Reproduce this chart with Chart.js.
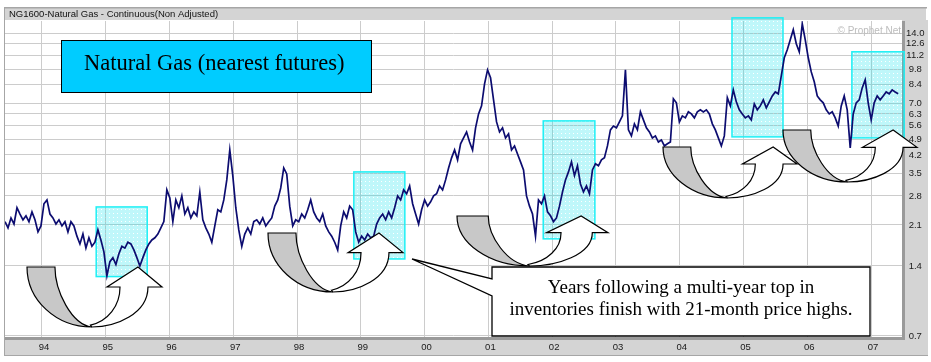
<!DOCTYPE html>
<html>
<head>
<meta charset="utf-8">
<title>Natural Gas (nearest futures)</title>
<script src="https://cdn.jsdelivr.net/npm/chart.js@4.4.1/dist/chart.umd.min.js"></script>
<style>
  html, body { margin: 0; padding: 0; background: #fff; }
  canvas { display: block; }
</style>
</head>
<body>
<canvas id="gas" width="931" height="362"></canvas>
<script>
const firstDate = 1993.42;
const stepYears = 0.047;
const prices = [
  2.17, 2.04, 2.25, 2.12, 2.49, 2.34, 2.21, 2.30, 2.17, 2.39, 2.21, 1.96, 2.08,
  2.59, 2.69, 2.34, 2.25, 2.12, 2.21, 2.08, 2.17, 1.96, 2.17, 2.08, 1.88, 1.74,
  1.92, 1.67, 1.85, 1.70, 1.77, 2.00, 1.81, 1.61, 1.27, 1.46, 1.52, 1.42, 1.58,
  1.70, 1.67, 1.77, 1.74, 1.64, 1.52, 1.40, 1.52, 1.64, 1.74, 1.81, 1.85, 1.92,
  2.04, 2.17, 2.97, 2.74, 2.17, 2.69, 2.49, 2.80, 2.34, 2.49, 2.25, 2.39, 2.30,
  2.91, 2.21, 2.04, 1.92, 1.77, 2.08, 2.44, 2.39, 2.69, 3.28, 4.41, 3.42, 2.49,
  2.00, 1.70, 1.92, 2.04, 1.92, 2.17, 2.21, 2.12, 2.25, 2.08, 2.17, 2.25, 2.53,
  2.69, 3.03, 3.69, 3.48, 2.53, 2.08, 2.21, 2.17, 2.34, 2.25, 2.44, 2.69, 2.39,
  2.25, 2.17, 2.34, 2.08, 1.96, 1.88, 1.77, 1.64, 2.08, 2.39, 2.25, 2.53, 2.44,
  1.96, 1.77, 1.88, 1.81, 1.92, 1.85, 1.88, 2.12, 2.25, 2.34, 2.21, 2.39, 2.25,
  2.49, 2.80, 2.69, 2.97, 2.86, 3.09, 2.59, 2.34, 2.12, 2.44, 2.69, 2.53, 2.64,
  2.80, 2.86, 3.09, 2.97, 3.28, 3.69, 4.08, 4.41, 4.00, 4.69, 4.97, 5.27, 4.77,
  4.41, 5.49, 6.30, 6.82, 8.48, 9.74, 9.01, 7.24, 5.82, 5.27, 5.49, 4.97, 5.17,
  4.41, 4.59, 4.24, 3.92, 3.62, 2.80, 2.53, 2.34, 1.88, 2.69, 2.59, 2.80, 2.39,
  2.30, 2.17, 2.25, 2.53, 2.91, 3.28, 3.55, 3.92, 3.42, 3.77, 3.15, 2.91, 3.09,
  2.86, 3.62, 3.85, 3.77, 4.00, 4.08, 4.59, 5.38, 5.59, 5.49, 5.82, 6.18, 9.74,
  5.38, 5.07, 5.71, 5.38, 6.43, 5.94, 5.49, 5.27, 4.97, 5.07, 4.77, 4.87, 4.59,
  4.69, 4.77, 7.32, 7.03, 5.82, 6.18, 6.06, 6.43, 6.30, 6.06, 6.43, 6.56, 6.43,
  6.56, 6.30, 5.71, 5.38, 4.97, 4.59, 5.07, 7.39, 6.82, 7.99, 7.10, 6.56, 6.30,
  6.06, 6.18, 5.94, 6.96, 6.56, 6.82, 7.24, 6.69, 7.10, 7.53, 7.83, 7.69, 9.19,
  10.98, 11.88, 13.12, 14.49, 12.61, 11.65, 15.37, 13.12, 10.98, 9.55, 8.66, 7.53, 7.24,
  7.03, 6.56, 6.30, 6.43, 6.06, 5.59, 6.82, 7.53, 6.56, 4.50, 6.30, 7.03, 7.24,
  8.15, 8.83, 7.03, 5.94, 7.03, 7.53, 7.24, 7.53, 7.83, 7.69, 7.99, 7.83, 7.69,
];

const yearTicks = [1994, 1995, 1996, 1997, 1998, 1999, 2000, 2001, 2002, 2003, 2004, 2005, 2006, 2007];
const yearLabels = ["94", "95", "96", "97", "98", "99", "00", "01", "02", "03", "04", "05", "06", "07"];
const priceTicks = [0.7, 1.4, 2.1, 2.8, 3.5, 4.2, 4.9, 5.6, 6.3, 7.0, 8.4, 9.8, 11.2, 12.6, 14.0];

// shaded spans: the year after a multi-year inventory top
const boxStart = [1994.85, 1998.89, 2001.86, 2004.82, 2006.70];
const boxEnd = [1995.65, 1999.69, 2002.67, 2005.62, 2007.52];
const boxLow = [1.26, 1.50, 1.83, 5.02, 4.97];
const boxHigh = [2.51, 3.55, 5.88, 16.3, 11.65];

const points = prices.map((p, i) => ({ x: firstDate + i * stepYears, y: p }));

// curved arrows under each box: left, top, width, height (px)
const arrows = [
  [27, 267, 135, 60],
  [268, 233, 135, 59],
  [457, 216, 151, 50],
  [663, 147, 134, 51],
  [783, 130, 134, 52],
];

Chart.defaults.font.family = "'Liberation Sans', Arial, sans-serif";

function dotFill(ctx) {
  const tile = document.createElement("canvas");
  tile.width = 4;
  tile.height = 4;
  const t = tile.getContext("2d");
  t.fillStyle = "rgba(0, 225, 235, 0.25)";
  t.fillRect(0, 0, 4, 4);
  t.clearRect(1, 1, 1, 1);
  return ctx.createPattern(tile, "repeat");
}

function drawArrow(c, L, T, W, H) {
  const p = (u, v) => [L + u * W, T + v * H];
  c.strokeStyle = "#000";
  c.lineWidth = 1.2;

  // grey back band
  c.beginPath();
  c.moveTo(...p(0, 0));
  c.lineTo(...p(0.207, 0));
  c.bezierCurveTo(...p(0.207, 0.4), ...p(0.33, 0.96), ...p(0.48, 1));
  c.bezierCurveTo(...p(0.215, 1), ...p(0, 0.552), ...p(0, 0));
  c.closePath();
  c.fillStyle = "#c8c8c8";
  c.fill();
  c.stroke();

  // white front with the head
  c.beginPath();
  c.moveTo(...p(0.48, 1));
  c.bezierCurveTo(...p(0.66, 1), ...p(0.896, 0.78), ...p(0.896, 0.333));
  c.lineTo(...p(1, 0.333));
  c.lineTo(...p(0.822, 0));
  c.lineTo(...p(0.593, 0.333));
  c.lineTo(...p(0.689, 0.333));
  c.bezierCurveTo(...p(0.689, 0.65), ...p(0.6, 0.9), ...p(0.47, 0.97));
  c.closePath();
  c.fillStyle = "#fff";
  c.fill();
  c.stroke();
}

const frame = {
  id: "frame",
  beforeDraw(chart) {
    const c = chart.ctx;
    c.save();
    c.fillStyle = "#fff";
    c.fillRect(0, 0, chart.width, chart.height);
    c.fillStyle = "#d4d4d4";
    c.fillRect(5, 8, 921, 12);
    c.fillRect(902, 20, 26, 336);
    c.fillRect(5, 340, 923, 15);
    c.fillStyle = "#a6a6a6";
    c.fillRect(4, 7, 923, 1.5);
    c.fillRect(4, 7, 1, 349);
    c.fillRect(4, 355, 924, 1);
    c.fillStyle = "#9a9a9a";
    c.fillRect(902, 21, 3, 319);
    c.fillRect(5, 337, 900, 3);
    c.fillStyle = "#111";
    c.font = "9.5px 'Liberation Sans'";
    c.textBaseline = "middle";
    c.fillText("NG1600-Natural Gas - Continuous(Non Adjusted)", 9, 14.5);
    c.restore();
  },
  beforeDatasetsDraw(chart) {
    const c = chart.ctx;
    const { x, y } = chart.scales;
    c.save();
    c.fillStyle = "#bdbdbd";
    c.font = "10px 'Liberation Sans'";
    c.textAlign = "right";
    c.textBaseline = "middle";
    c.fillText("\u00a9 Prophet.Net", 901, 31);

    const pat = dotFill(c);
    for (let i = 0; i < boxStart.length; i++) {
      const l = x.getPixelForValue(boxStart[i]);
      const r = x.getPixelForValue(boxEnd[i]);
      const t = y.getPixelForValue(boxHigh[i]);
      const b = y.getPixelForValue(boxLow[i]);
      c.fillStyle = pat;
      c.fillRect(l, t, r - l, b - t);
      c.strokeStyle = "#1ef0f5";
      c.lineWidth = 1.5;
      c.strokeRect(l, t, r - l, b - t);
    }
    c.restore();
  },
  afterDraw(chart) {
    const c = chart.ctx;
    c.save();
    arrows.forEach((a) => drawArrow(c, a[0], a[1], a[2], a[3]));

    // title box
    c.fillStyle = "#00ccff";
    c.fillRect(61, 40, 310, 52);
    c.strokeStyle = "#000";
    c.lineWidth = 1;
    c.strokeRect(61.5, 40.5, 310, 52);
    c.fillStyle = "#000";
    c.font = "22.5px 'Liberation Serif'";
    c.textBaseline = "alphabetic";
    c.fillText("Natural Gas (nearest futures)", 84, 70);

    // callout
    c.beginPath();
    c.moveTo(492, 267);
    c.lineTo(870, 267);
    c.lineTo(870, 336);
    c.lineTo(492, 336);
    c.lineTo(492, 296);
    c.lineTo(412, 259);
    c.lineTo(492, 279);
    c.closePath();
    c.fillStyle = "#fff";
    c.fill();
    c.lineWidth = 1.3;
    c.stroke();
    c.fillStyle = "#000";
    c.font = "19px 'Liberation Serif'";
    c.textAlign = "center";
    c.fillText("Years following a multi-year top in", 681, 293);
    c.fillText("inventories finish with 21-month price highs.", 681, 315);
    c.restore();
  },
};

new Chart(document.getElementById("gas"), {
  type: "line",
  data: {
    datasets: [
      {
        data: points,
        borderColor: "#0c0c70",
        borderWidth: 1.7,
        pointRadius: 0,
        tension: 0,
        fill: false,
      },
    ],
  },
  options: {
    responsive: false,
    animation: false,
    devicePixelRatio: 1,
    layout: { padding: { left: 5, top: 21, right: 3, bottom: 6 } },
    plugins: { legend: { display: false }, tooltip: { enabled: false } },
    scales: {
      x: {
        type: "linear",
        min: 1993.42,
        max: 2007.486,
        bounds: "data",
        afterBuildTicks: (s) => {
          s.ticks = yearTicks.map((v) => ({ value: v }));
        },
        afterFit: (s) => {
          s.height = 19;
        },
        grid: { color: "#cccccc", drawTicks: false },
        border: { display: false },
        ticks: {
          callback: (v) => yearLabels[yearTicks.indexOf(v)],
          padding: 5,
          labelOffset: 2,
          maxRotation: 0,
          autoSkip: false,
          color: "#1a1a1a",
          font: { size: 9.5 },
        },
      },
      y: {
        type: "logarithmic",
        position: "right",
        min: 0.693,
        max: 15.8,
        bounds: "data",
        afterBuildTicks: (s) => {
          s.ticks = priceTicks.map((v) => ({ value: v }));
        },
        afterFit: (s) => {
          s.width = 26;
        },
        grid: { color: "#cccccc", drawTicks: false },
        border: { display: false },
        ticks: {
          callback: (v) => Number(v).toFixed(1),
          padding: 4,
          crossAlign: "center",
          autoSkip: false,
          color: "#1a1a1a",
          font: { size: 9.5 },
        },
      },
    },
  },
  plugins: [frame],
});
</script>
</body>
</html>
